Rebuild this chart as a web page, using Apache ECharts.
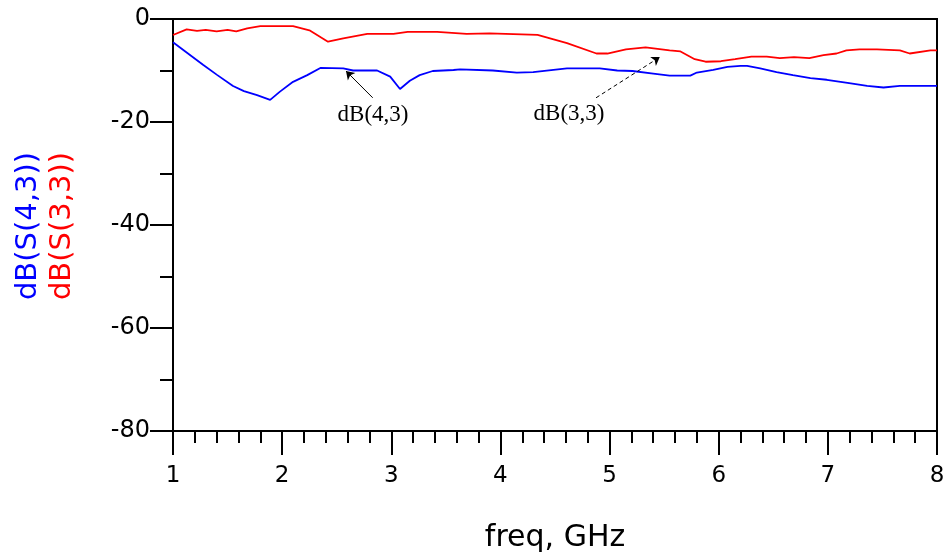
<!DOCTYPE html>
<html lang="en">
<head>
<meta charset="UTF-8">
<title>S-parameters</title>
<script src="https://cdn.jsdelivr.net/npm/echarts@6/dist/echarts.min.js"></script>
<style>
  body{ margin:0; background:#fff; }
  #main{ width:950px; height:559px; }
</style>
</head>
<body>
<div id="main"></div>
<script>
// dB(S(4,3)) - blue
let s43Freq = [1.00, 1.125, 1.275, 1.40, 1.55, 1.65, 1.77, 1.89, 1.98, 2.10, 2.23, 2.35, 2.56, 2.65, 2.87, 2.99, 3.08, 3.17, 3.26, 3.38, 3.57, 3.63, 3.93, 4.15, 4.30, 4.61, 4.91, 5.07, 5.21, 5.40, 5.55, 5.74, 5.80, 5.95, 6.08, 6.20, 6.26, 6.38, 6.53, 6.68, 6.84, 6.99, 7.18, 7.36, 7.51, 7.66, 7.84, 8.00];
let s43Db   = [-4.5, -6.5, -8.9, -10.8, -13.0, -14.0, -14.8, -15.7, -14.1, -12.2, -10.9, -9.5, -9.6, -10.0, -10.0, -11.2, -13.6, -12.0, -10.9, -10.1, -9.9, -9.8, -10.0, -10.4, -10.3, -9.6, -9.6, -10.0, -10.1, -10.6, -11.0, -11.0, -10.4, -9.9, -9.3, -9.1, -9.1, -9.6, -10.3, -10.9, -11.5, -11.8, -12.4, -13.0, -13.3, -13.0, -13.0, -13.0];

// dB(S(3,3)) - red
let s33Freq = [1.00, 1.125, 1.22, 1.30, 1.40, 1.50, 1.58, 1.68, 1.80, 2.10, 2.25, 2.42, 2.56, 2.78, 3.02, 3.15, 3.26, 3.42, 3.69, 3.90, 4.34, 4.61, 4.88, 4.98, 5.15, 5.33, 5.55, 5.65, 5.78, 5.88, 6.02, 6.15, 6.30, 6.44, 6.56, 6.69, 6.83, 6.96, 7.08, 7.17, 7.29, 7.45, 7.66, 7.75, 7.94, 8.00];
let s33Db   = [-3.1, -2.0, -2.3, -2.1, -2.4, -2.1, -2.4, -1.8, -1.4, -1.4, -2.2, -4.4, -3.75, -2.9, -2.9, -2.5, -2.5, -2.5, -2.9, -2.8, -3.1, -4.7, -6.7, -6.7, -5.9, -5.5, -6.1, -6.3, -7.8, -8.3, -8.2, -7.8, -7.3, -7.3, -7.6, -7.4, -7.6, -7.0, -6.7, -6.1, -5.9, -5.9, -6.1, -6.7, -6.1, -6.1];

// annotation arrows (start -> end, data coords)
let arrow43 = [[2.83, -15.3], [2.585, -10.1]];
let arrow33 = [[4.876, -15.3], [5.46, -7.4]];

function zip(xs, ys){ return xs.map((x, i) => [x, ys[i]]); }

var myChart = echarts.init(document.getElementById('main'));
var axisFont = 'DejaVu Sans';
var option = {
  animation: false,
  grid: {
    left: 173, right: 13, top: 19, bottom: 128,
    show: true, borderColor: '#000', borderWidth: 2
  },
  xAxis: {
    type: 'value', min: 1, max: 8, interval: 1,
    name: 'freq, GHz', nameLocation: 'middle', nameGap: 92,
    nameTextStyle: { fontFamily: axisFont, fontSize: 30, color: '#000' },
    axisLine: { onZero: false, lineStyle: { color: '#000', width: 2 } },
    axisTick: { length: 24, lineStyle: { color: '#000', width: 2 } },
    minorTick: { show: true, splitNumber: 5, length: 12, lineStyle: { color: '#000', width: 2 } },
    axisLabel: { margin: 34, fontFamily: axisFont, fontSize: 23, color: '#000' },
    splitLine: { show: false }
  },
  yAxis: {
    type: 'value', min: -80, max: 0, interval: 20,
    axisLine: { show: true, onZero: false, lineStyle: { color: '#000', width: 2 } },
    axisTick: { show: true, length: 23, lineStyle: { color: '#000', width: 2 } },
    minorTick: { show: true, splitNumber: 2, length: 13, lineStyle: { color: '#000', width: 2 } },
    axisLabel: { margin: 23, fontFamily: axisFont, fontSize: 24, color: '#000' },
    splitLine: { show: false }
  },
  graphic: [
    { type: 'text', x: 28, y: 226, rotation: Math.PI / 2,
      style: { text: 'dB(S(4,3))', fill: '#0000ff', font: '29px "DejaVu Sans"', align: 'center', verticalAlign: 'middle' } },
    { type: 'text', x: 62, y: 226, rotation: Math.PI / 2,
      style: { text: 'dB(S(3,3))', fill: '#ff0000', font: '29px "DejaVu Sans"', align: 'center', verticalAlign: 'middle' } },
    { type: 'text', x: 373, y: 115,
      style: { text: 'dB(4,3)', fill: '#000', font: '23px "Liberation Serif"', align: 'center', verticalAlign: 'middle' } },
    { type: 'text', x: 569, y: 114,
      style: { text: 'dB(3,3)', fill: '#000', font: '23px "Liberation Serif"', align: 'center', verticalAlign: 'middle' } }
  ],
  series: [
    {
      name: 'dB(S(4,3))', type: 'line', showSymbol: false, smooth: false,
      lineStyle: { color: '#0000ff', width: 1.8 },
      data: zip(s43Freq, s43Db),
      markLine: {
        silent: true, symbol: ['none', 'arrow'], symbolSize: 8,
        label: { show: false },
        lineStyle: { color: '#000', width: 1, type: 'solid' },
        data: [[{ coord: arrow43[0] }, { coord: arrow43[1] }]]
      }
    },
    {
      name: 'dB(S(3,3))', type: 'line', showSymbol: false, smooth: false,
      lineStyle: { color: '#ff0000', width: 1.8 },
      data: zip(s33Freq, s33Db),
      markLine: {
        silent: true, symbol: ['none', 'arrow'], symbolSize: 8,
        label: { show: false },
        lineStyle: { color: '#000', width: 1, type: [4, 3] },
        data: [[{ coord: arrow33[0] }, { coord: arrow33[1] }]]
      }
    }
  ]
};
myChart.setOption(option);
</script>
</body>
</html>
